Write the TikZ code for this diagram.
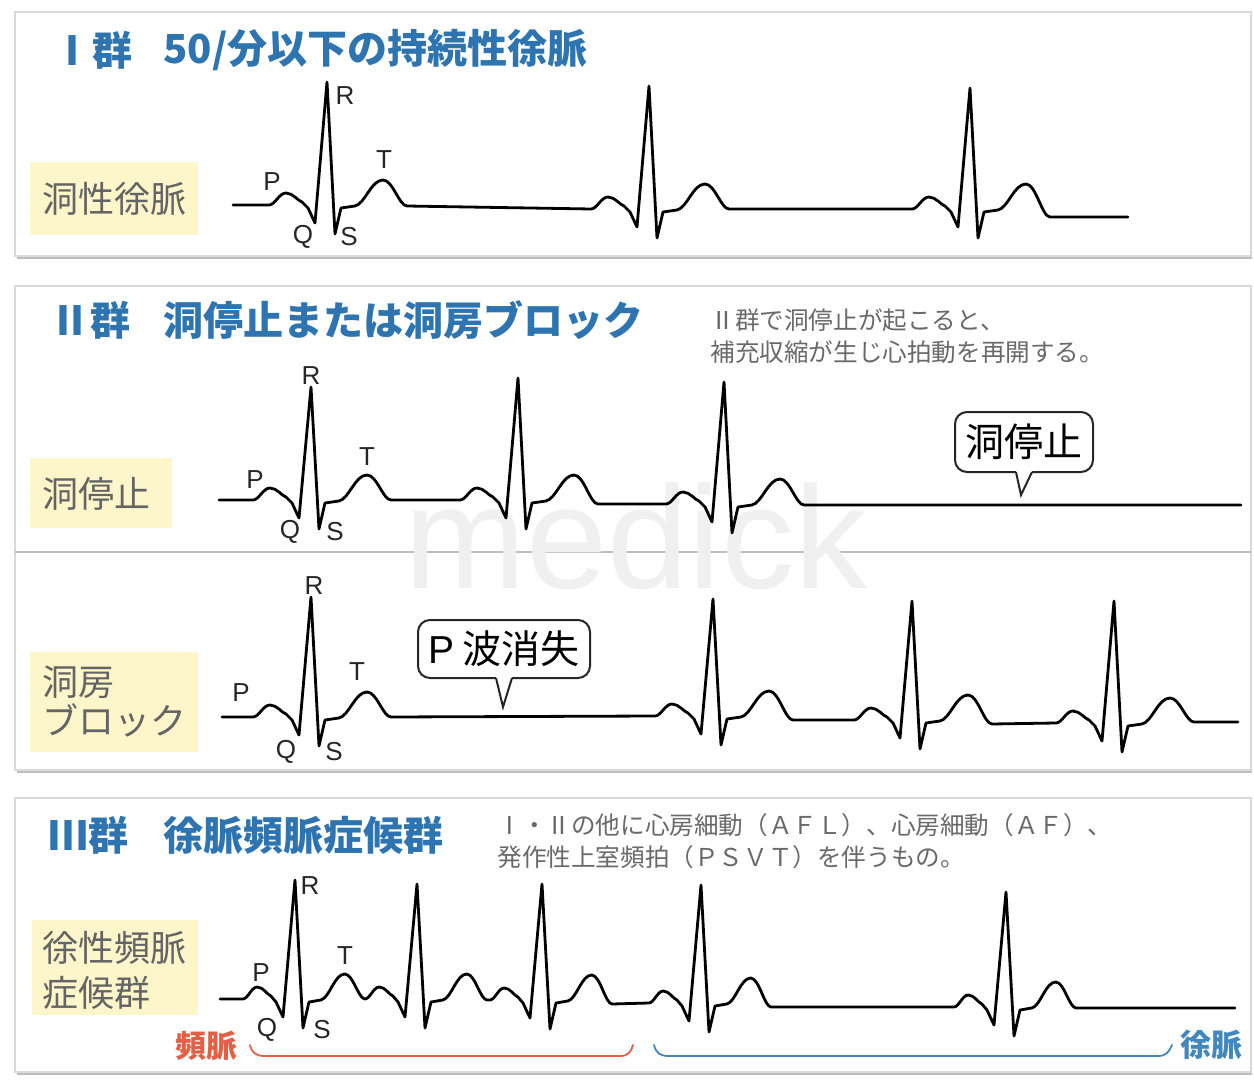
\documentclass[tikz,border=0pt]{standalone}
\usepackage{fontspec}
\setmainfont{Noto Sans CJK JP}
\newfontfamily\lat{Liberation Sans}
\usetikzlibrary{calc}
\definecolor{titleblue}{RGB}{46,116,176}
\definecolor{labelbg}{RGB}{253,246,202}
\definecolor{labeltext}{RGB}{100,100,100}
\definecolor{notegray}{RGB}{105,105,105}
\definecolor{tachyred}{RGB}{226,96,70}
\definecolor{bradyblue}{RGB}{66,136,188}
\definecolor{panelborder}{RGB}{218,218,218}
\definecolor{panelshadow}{RGB}{190,190,190}

% one heartbeat: #1 x of R peak, #2 baseline y, #3 R height, #4 baseline after T, #5 width factor of P and T
\newcommand\ecgbeat[5]{%
 -- ({#1-19-39*#5},#2)
 .. controls ({#1-19-33*#5},#2) and ({#1-19-29*#5},{#2-12}) .. ({#1-19-22*#5},{#2-12})
 .. controls ({#1-19-15*#5},{#2-12}) and ({#1-19-10*#5},{#2-4}) .. ({#1-19-6*#5},{#2-3})
 -- ({#1-19},{#2+3}) -- ({#1-12},{#2+18}) -- (#1,{#2-#3}) -- ({#1+8},{#2+29})
 -- ({#1+14},{#2+3}) -- ({#1+14+14*#5},{#2+1})
 .. controls ({#1+14+24*#5},{#2-1}) and ({#1+14+30*#5},{#2-25}) .. ({#1+14+42*#5},{#2-25})
 .. controls ({#1+14+52*#5},{#2-25}) and ({#1+14+58*#5},#4) .. ({#1+14+66*#5},#4)}

\tikzset{
  panel/.style={fill=white, draw=panelborder, line width=0.8pt},
  ecg/.style={draw=black, line width=1.4pt, line join=round, line cap=round},
  titletext/.style={anchor=west, inner sep=0pt, text=titleblue, font=\fontsize{20pt}{22pt}\selectfont\bfseries},
  notetext/.style={anchor=west, inner sep=0pt, text=notegray, font=\fontsize{12.3pt}{14pt}\selectfont},
  lbltext/.style={anchor=west, inner sep=0pt, text=labeltext, align=left},
  wave/.style={inner sep=0pt, text=black!85, font=\lat\fontsize{13pt}{14pt}\selectfont},
  callout/.style={draw=black!85, line width=1pt, fill=white, rounded corners=6pt, outer sep=0pt,
                  inner sep=0pt, font=\fontsize{19.5pt}{22pt}\selectfont},
  callline/.style={draw=black!85, line width=1pt, line join=miter},
  bracket/.style={line width=0.9pt, line cap=round},
}

\begin{document}
\begin{tikzpicture}[x=0.5pt, y=-0.5pt]
\useasboundingbox (0,0) rectangle (1254,1081);
\fill[white] (0,0) rectangle (1254,1081);

% ---------- panels ----------
\fill[panelshadow] (17,254) rectangle (1252,259);
\draw[panel] (15,12) rectangle (1251,256);
\fill[panelshadow] (17,768) rectangle (1252,773);
\draw[panel] (15,286) rectangle (1251,770);
\fill[panelshadow] (17,1070) rectangle (1252,1075);
\draw[panel] (15,798) rectangle (1251,1072);
\draw[panelshadow, line width=1.2pt] (15,552) -- (1251,552);

% watermark
\node[text=black!6, inner sep=0pt, anchor=base, font=\lat\fontsize{73pt}{73pt}\selectfont] (wm) at (636,588) {medick};

% ---------- Panel I ----------
\node[titletext] (t1a) at (52,50) {Ⅰ群};
\node[titletext] (t1b) at (163,50) {50/分以下の持続性徐脈};
\fill[labelbg] (30,162) rectangle (198,235);
\node[lbltext, font=\fontsize{18pt}{20pt}\selectfont] (l1) at (42,199) {洞性徐脈};

\draw[ecg] (233,205)
  \ecgbeat{327}{205}{123}{206}{1}
  \ecgbeat{649}{209}{123}{209}{1}
  \ecgbeat{970}{209}{121}{217}{1}
  -- (1128,217);
\node[wave] (p1P) at (272,182) {P};
\node[wave] (p1R) at (345,96) {R};
\node[wave] (p1T) at (384,160) {T};
\node[wave] (p1Q) at (303,237) {Q};
\node[wave] (p1S) at (349,237) {S};

% ---------- Panel II ----------
\node[titletext] (t2a) at (50,320) {Ⅱ群};
\node[titletext] (t2b) at (163,320) {洞停止または洞房ブロック};
\node[notetext] (n2a) at (710,320) {Ⅱ群で洞停止が起こると、};
\node[notetext] (n2b) at (710,352) {補充収縮が生じ心拍動を再開する。};

\fill[labelbg] (30,458) rectangle (172,528);
\node[lbltext, font=\fontsize{18pt}{20pt}\selectfont] (l2) at (42,494) {洞停止};

\draw[ecg] (219,500)
  \ecgbeat{311}{500}{113}{500}{1}
  \ecgbeat{518}{500}{122}{504}{1}
  \ecgbeat{724}{504}{122}{505}{1}
  -- (1241,505);
\node[wave] (p2P) at (255,480) {P};
\node[wave] (p2R) at (311,376) {R};
\node[wave] (p2T) at (367,457) {T};
\node[wave] (p2Q) at (290,532) {Q};
\node[wave] (p2S) at (335,532) {S};

\node[callout, minimum width=69pt, minimum height=30pt] (c1) at (1024,442) {洞停止};
\coordinate (c1tip) at (1021,495);
\fill[white] ([xshift=-4pt,yshift=0.9pt]c1.south) -- ([xshift=-4pt]c1.south) -- (c1tip)
  -- ([xshift=4pt]c1.south) -- ([xshift=4pt,yshift=0.9pt]c1.south) -- cycle;
\draw[callline] ([xshift=-4pt]c1.south) -- (c1tip) -- ([xshift=4pt]c1.south);

% sinoatrial block
\fill[labelbg] (30,652) rectangle (198,752);
\node[lbltext, font=\fontsize{18pt}{19.5pt}\selectfont] (l3) at (42,702) {洞房\\ブロック};

\draw[ecg] (222,717)
  \ecgbeat{311}{717}{120}{717}{1}
  \ecgbeat{713}{716}{117}{720}{1}
  \ecgbeat{912}{720}{119}{724}{1}
  \ecgbeat{1114}{723}{122}{722}{1}
  -- (1238,722);
\node[wave] (p3P) at (241,693) {P};
\node[wave] (p3R) at (314,586) {R};
\node[wave] (p3T) at (357,672) {T};
\node[wave] (p3Q) at (286,752) {Q};
\node[wave] (p3S) at (334,752) {S};

\node[callout, minimum width=86pt, minimum height=29pt] (c2) at (504,649) {{\lat P} 波消失};
\coordinate (c2tip) at (503,707);
\fill[white] ([xshift=-4pt,yshift=0.9pt]c2.south) -- ([xshift=-4pt]c2.south) -- (c2tip)
  -- ([xshift=4pt]c2.south) -- ([xshift=4pt,yshift=0.9pt]c2.south) -- cycle;
\draw[callline] ([xshift=-4pt]c2.south) -- (c2tip) -- ([xshift=4pt]c2.south);

% ---------- Panel III ----------
\node[titletext] (t3a) at (48,835) {Ⅲ群};
\node[titletext] (t3b) at (163,835) {徐脈頻脈症候群};
\node[notetext] (n3a) at (497,825) {Ⅰ・Ⅱの他に心房細動（ＡＦＬ）、心房細動（ＡＦ）、};
\node[notetext] (n3b) at (497,857) {発作性上室頻拍（ＰＳＶＴ）を伴うもの。};

\fill[labelbg] (32,920) rectangle (198,1015);
\node[lbltext, font=\fontsize{18pt}{22.5pt}\selectfont] (l4) at (42,970) {徐性頻脈\\症候群};

\draw[ecg] (220,999)
  \ecgbeat{295}{999}{119}{999}{0.85}
  \ecgbeat{417}{999}{115}{1000}{0.85}
  \ecgbeat{542}{1000}{116}{1004}{0.85}
  \ecgbeat{701}{1003}{118}{1007}{0.85}
  \ecgbeat{1006}{1007}{115}{1008}{0.85}
  -- (1235,1008);
\node[wave] (p4P) at (261,973) {P};
\node[wave] (p4R) at (310,886) {R};
\node[wave] (p4T) at (345,956) {T};
\node[wave] (p4Q) at (267,1030) {Q};
\node[wave] (p4S) at (322,1030) {S};

% brackets
\node[inner sep=0pt, text=tachyred, font=\fontsize{15.5pt}{17pt}\selectfont\bfseries] (tachy) at (206,1046) {頻脈};
\node[inner sep=0pt, text=bradyblue, font=\fontsize{15.5pt}{17pt}\selectfont\bfseries] (brady) at (1211,1045) {徐脈};
\coordinate (rb1) at (250,1045);
\coordinate (rb2) at (633,1045);
\coordinate (bb1) at (654,1045);
\coordinate (bb2) at (1172,1045);
\draw[bracket, tachyred] (rb1) .. controls (252,1053) and (256,1056) .. (265,1056) -- (620,1056)
  .. controls (628,1056) and (631,1052) .. (rb2);
\draw[bracket, bradyblue] (bb1) .. controls (656,1053) and (660,1056) .. (669,1056) -- (1158,1056)
  .. controls (1166,1056) and (1169,1052) .. (bb2);
\end{tikzpicture}
\end{document}
